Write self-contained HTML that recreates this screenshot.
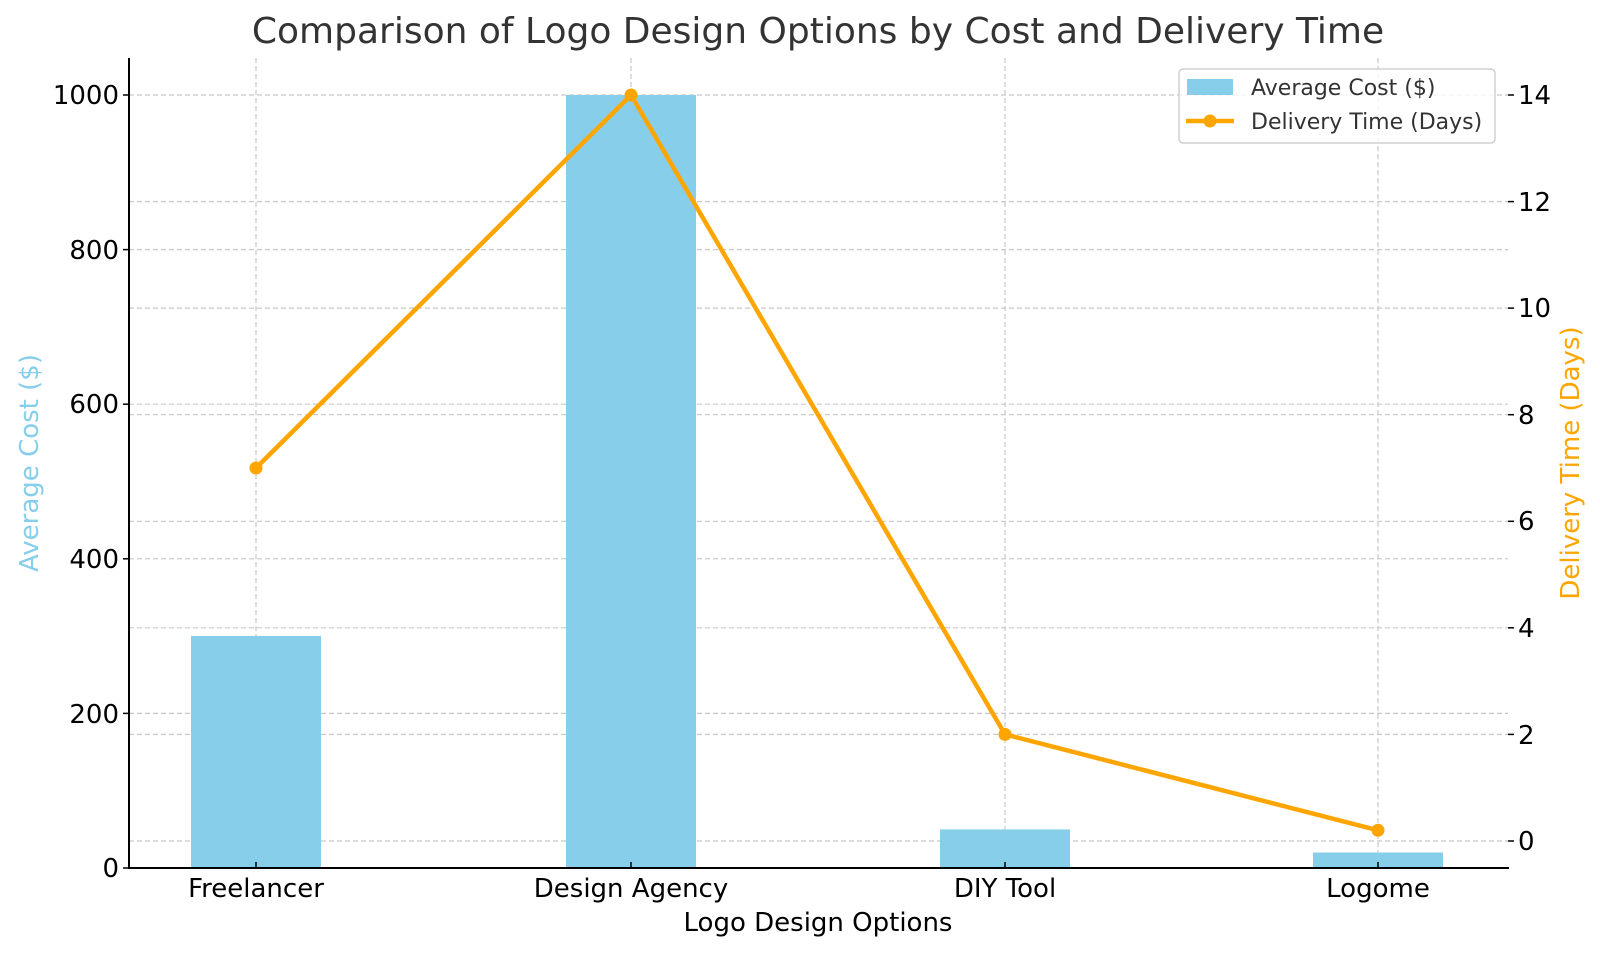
<!DOCTYPE html><html><head><style>body{margin:0;background:#fff}</style></head><body>
<svg width="1600" height="954" xmlns="http://www.w3.org/2000/svg" font-family="DejaVu Sans, Liberation Sans, sans-serif">
<rect width="1600" height="954" fill="#fff"/>
<g stroke="#c8c8c8" stroke-width="1.2" stroke-dasharray="5,3">
<line x1="256" y1="58" x2="256" y2="868"/><line x1="631" y1="58" x2="631" y2="868"/><line x1="1005" y1="58" x2="1005" y2="868"/><line x1="1378" y1="58" x2="1378" y2="868"/>
<line x1="129" y1="713.4" x2="1508" y2="713.4"/><line x1="129" y1="558.8" x2="1508" y2="558.8"/><line x1="129" y1="404.2" x2="1508" y2="404.2"/><line x1="129" y1="249.6" x2="1508" y2="249.6"/><line x1="129" y1="95" x2="1508" y2="95"/>
<line x1="129" y1="841" x2="1508" y2="841"/><line x1="129" y1="734.4" x2="1508" y2="734.4"/><line x1="129" y1="627.8" x2="1508" y2="627.8"/><line x1="129" y1="521.3" x2="1508" y2="521.3"/><line x1="129" y1="414.7" x2="1508" y2="414.7"/><line x1="129" y1="308.1" x2="1508" y2="308.1"/><line x1="129" y1="201.6" x2="1508" y2="201.6"/>
</g>
<g fill="#87CEEB">
<rect x="191" y="636" width="130" height="232"/><rect x="566" y="95" width="130" height="773"/><rect x="940" y="829.4" width="130" height="38.6"/><rect x="1313" y="852.5" width="130" height="15.5"/>
</g>
<polyline points="256,468 631,95 1005,734.4 1378,830.3" fill="none" stroke="#FFA500" stroke-width="4.5" stroke-linejoin="round"/>
<g fill="#FFA500"><circle cx="256" cy="468" r="6.5"/><circle cx="631" cy="95" r="6.5"/><circle cx="1005" cy="734.4" r="6.5"/><circle cx="1378" cy="830.3" r="6.5"/></g>
<g stroke="#000" stroke-width="2"><line x1="129" y1="58" x2="129" y2="869"/><line x1="128" y1="868" x2="1509" y2="868"/></g>
<g stroke="#000" stroke-width="1.5">
<line x1="123" y1="868" x2="129" y2="868"/><line x1="123" y1="713.4" x2="129" y2="713.4"/><line x1="123" y1="558.8" x2="129" y2="558.8"/><line x1="123" y1="404.2" x2="129" y2="404.2"/><line x1="123" y1="249.6" x2="129" y2="249.6"/><line x1="123" y1="95" x2="129" y2="95"/>
<line x1="1508" y1="841" x2="1514" y2="841"/><line x1="1508" y1="734.4" x2="1514" y2="734.4"/><line x1="1508" y1="627.8" x2="1514" y2="627.8"/><line x1="1508" y1="521.3" x2="1514" y2="521.3"/><line x1="1508" y1="414.7" x2="1514" y2="414.7"/><line x1="1508" y1="308.1" x2="1514" y2="308.1"/><line x1="1508" y1="201.6" x2="1514" y2="201.6"/><line x1="1508" y1="95" x2="1514" y2="95"/>
<line x1="256" y1="868" x2="256" y2="862"/><line x1="631" y1="868" x2="631" y2="862"/><line x1="1005" y1="868" x2="1005" y2="862"/><line x1="1378" y1="868" x2="1378" y2="862"/>
</g>
<g font-size="26" fill="#000" text-anchor="end">
<text x="119" y="877">0</text><text x="119" y="723">200</text><text x="119" y="568">400</text><text x="119" y="413">600</text><text x="119" y="259">800</text><text x="119" y="104">1000</text>
</g>
<g font-size="26" fill="#000">
<text x="1518" y="850">0</text><text x="1518" y="744">2</text><text x="1518" y="637">4</text><text x="1518" y="530">6</text><text x="1518" y="424">8</text><text x="1518" y="317">10</text><text x="1518" y="211">12</text><text x="1518" y="104">14</text>
</g>
<g font-size="26" fill="#000" text-anchor="middle">
<text x="256" y="897">Freelancer</text><text x="631" y="897">Design Agency</text><text x="1005" y="897">DIY Tool</text><text x="1378" y="897">Logome</text>
<text x="818" y="931">Logo Design Options</text>
</g>
<text x="818" y="43" font-size="36" fill="#333" text-anchor="middle">Comparison of Logo Design Options by Cost and Delivery Time</text>
<text transform="translate(38,463) rotate(-90)" font-size="26" fill="#87CEEB" text-anchor="middle">Average Cost ($)</text>
<text transform="translate(1579,463) rotate(-90)" font-size="26" fill="#FFA500" text-anchor="middle">Delivery Time (Days)</text>
<rect x="1179" y="69" width="316" height="74" rx="4" fill="#fff" fill-opacity="0.8" stroke="#d0d0d0" stroke-width="1.5"/>
<rect x="1187" y="79" width="46" height="16" fill="#87CEEB"/>
<line x1="1186" y1="121" x2="1234" y2="121" stroke="#FFA500" stroke-width="4.5"/><circle cx="1210" cy="121" r="6.5" fill="#FFA500"/>
<text x="1251" y="95" font-size="22" fill="#333">Average Cost ($)</text>
<text x="1251" y="129" font-size="22" fill="#333">Delivery Time (Days)</text>
</svg>
</body></html>
